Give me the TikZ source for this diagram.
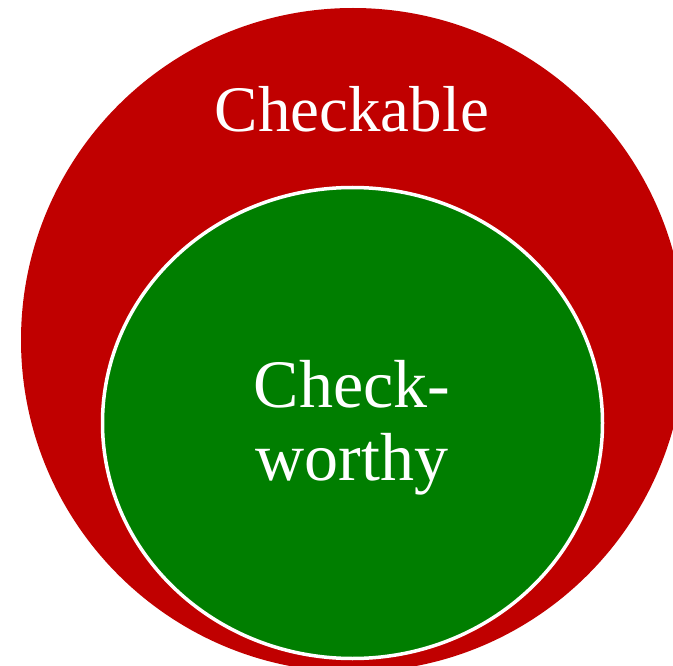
\documentclass[tikz,border=0pt]{standalone}
\usepackage{fontspec}
\setmainfont{Liberation Serif}
\usetikzlibrary{shapes.geometric}

\definecolor{checkred}{HTML}{C00000}
\definecolor{worthygreen}{HTML}{007E00}

\begin{document}
\begin{tikzpicture}[
    x=1pt, y=-1pt,
    outerset/.style={circle, fill=checkred, minimum size=664pt, inner sep=0pt},
    innerset/.style={ellipse, fill=worthygreen, draw=white, line width=3.5pt, minimum width=500pt, minimum height=471pt, inner sep=0pt},
    setlabel/.style={text=white, inner sep=0pt, align=center, font=\fontsize{#1}{1.08\dimexpr#1pt\relax}\selectfont},
    setlabel/.default=65,
]
\useasboundingbox (0,0) rectangle (673,666);
\clip (0,0) rectangle (673,666);

% -- the two sets --
\node[outerset] (checkable) at (353,340) {};
\node[innerset] (worthy) at (352.5,423) {};

% -- labels --
\node[setlabel, anchor=base] (checkablelbl) at (352,132) {Checkable};
\node[setlabel=68] (worthylbl) at (352,428) {Check-\\worthy};

\end{tikzpicture}
\end{document}
